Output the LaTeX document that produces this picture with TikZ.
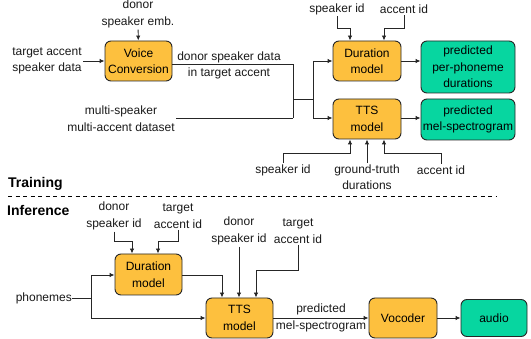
\documentclass[tikz,border=0pt]{standalone}
\usepackage{fontspec}
\setmainfont{Liberation Sans}
\usetikzlibrary{arrows.meta}
\definecolor{orng}{HTML}{FDC03E}
\definecolor{grn}{HTML}{07D6A0}
\definecolor{edge}{HTML}{262626}
\begin{document}
\begin{tikzpicture}[x=1pt,y=-1pt,
  font=\fontsize{12}{16.5}\selectfont,
  box/.style={draw=edge, line width=0.9pt, rounded corners=6pt, fill=orng, align=center, inner sep=0pt},
  gbox/.style={box, fill=grn},
  lbl/.style={align=center, inner sep=1.5pt, text=black!90},
  ttl/.style={inner sep=0pt, anchor=west, font=\fontsize{14}{16}\selectfont\bfseries},
  wire/.style={draw=edge, line width=0.9pt},
  arr/.style={wire, -{Latex[length=5pt,width=4.5pt]}}]
\useasboundingbox (0,0) rectangle (531,339);

% ---------- Training ----------
\node[box, minimum width=67pt, minimum height=40pt] (VC) at (138.5,61) {Voice\\Conversion};
\node[box, minimum width=68pt, minimum height=40pt] (DurT) at (367,61) {Duration\\model};
\node[gbox, minimum width=94pt, minimum height=52pt] (PredDur) at (468,67) {predicted\\per-phoneme\\durations};
\node[box, minimum width=68pt, minimum height=40pt] (TTST) at (367,119) {TTS\\model};
\node[gbox, minimum width=94pt, minimum height=41pt] (PredMel) at (468,119.5) {predicted\\mel-spectrogram};

\node[lbl] (demb) at (138,14) {donor\\speaker emb.};
\node[lbl] (tas) at (47,61) {target accent\\speaker data};
\node[lbl] (msma) at (121,118.5) {multi-speaker\\multi-accent dataset};
\node[lbl] (dsd) at (229,65.5) {donor speaker data\\in target accent};
\node[lbl] (spk1) at (337,9) {speaker id};
\node[lbl] (acc1) at (404,9) {accent id};
\node[lbl] (spk2) at (283,170) {speaker id};
\node[lbl] (gt) at (367,177) {ground-truth\\durations};
\node[lbl] (acc2) at (441,170) {accent id};

\coordinate (j1) at (293,64);
\coordinate (j2) at (293,118);
\coordinate (j3) at (293,99);
\coordinate (j4) at (313,99);

\draw[arr] (demb) -- (VC);
\draw[arr] (tas) -- (VC);
\draw[wire] (VC.east |- j1) -- (j1) -- (j2);
\draw[wire] (msma.east |- j2) -- (j2);
\draw[wire] (j3) -- (j4);
\draw[arr] (j4 |- DurT.west) -- (DurT.west);
\draw[wire] (j4 |- DurT.west) -- (j4 |- j2);
\draw[arr] (j4 |- j2) -- (TTST.west |- j2);
\draw[arr] (DurT.east) -- (DurT.east -| PredDur.west);
\draw[arr] (TTST.east |- j2) -- (PredMel.west |- j2);

\draw[arr] (spk1.south) -- (spk1.south |- 0,28) -| ([xshift=-17pt]DurT.north);
\draw[arr] (acc1.south) -- (acc1.south |- 0,28) -| ([xshift=17pt]DurT.north);
\draw[arr] (spk2.north) -- (spk2.north |- 0,153) -| ([xshift=-17pt]TTST.south);
\draw[arr] (gt.north) -- (gt.north |- TTST.south);
\draw[arr] (acc2.north) -- (acc2.north |- 0,153) -| ([xshift=17pt]TTST.south);

% ---------- separator ----------
\node[ttl] (train) at (8,184) {Training};
\draw[draw=black, line width=0.9pt, dash pattern=on 4pt off 3.5pt] (8,196) -- (497,196);
\node[ttl] (infer) at (7,210) {Inference};

% ---------- Inference ----------
\node[box, minimum width=67pt, minimum height=41pt] (DurI) at (148.5,274.5) {Duration\\model};
\node[box, minimum width=67pt, minimum height=40pt] (TTSI) at (239.5,318) {TTS\\model};
\node[box, minimum width=68pt, minimum height=40pt] (Voc) at (403,318) {Vocoder};
\node[gbox, minimum width=66pt, minimum height=37pt] (Aud) at (494,318) {audio};

\node[lbl] (dsi1) at (114,216) {donor\\speaker id};
\node[lbl] (tai1) at (178,216) {target\\accent id};
\node[lbl] (dsi2) at (239,231) {donor\\speaker id};
\node[lbl] (tai2) at (298,231) {target\\accent id};
\node[lbl, anchor=east, inner sep=0pt] (phon) at (72,298) {phonemes};
\node[lbl] (mel) at (321,318) {predicted\\mel-spectrogram};

\coordinate (p1) at (91,298);

\draw[arr] (dsi1.south) -- (dsi1.south |- 0,241) -| ([xshift=-16.5pt]DurI.north);
\draw[arr] (tai1.south) -- (tai1.south |- 0,241) -| ([xshift=9.5pt]DurI.north);
\draw[arr] (DurI.east |- 0,275) -| ([xshift=-17.5pt]TTSI.north);
\draw[arr] (dsi2.south) -- (dsi2.south |- TTSI.north);
\draw[arr] (tai2.south) -- (tai2.south |- 0,270) -| ([xshift=16.5pt]TTSI.north);
\draw[wire] (phon.east) -- (p1);
\draw[wire] (p1 |- 0,275) -- (p1 |- TTSI.west);
\draw[arr] (p1 |- 0,275) -- (DurI.west |- 0,275);
\draw[arr] (p1 |- TTSI.west) -- (TTSI.west);
\draw[arr] (TTSI.east) -- (Voc.west);
\draw[arr] (Voc.east) -- (Aud.west);
\end{tikzpicture}
\end{document}
